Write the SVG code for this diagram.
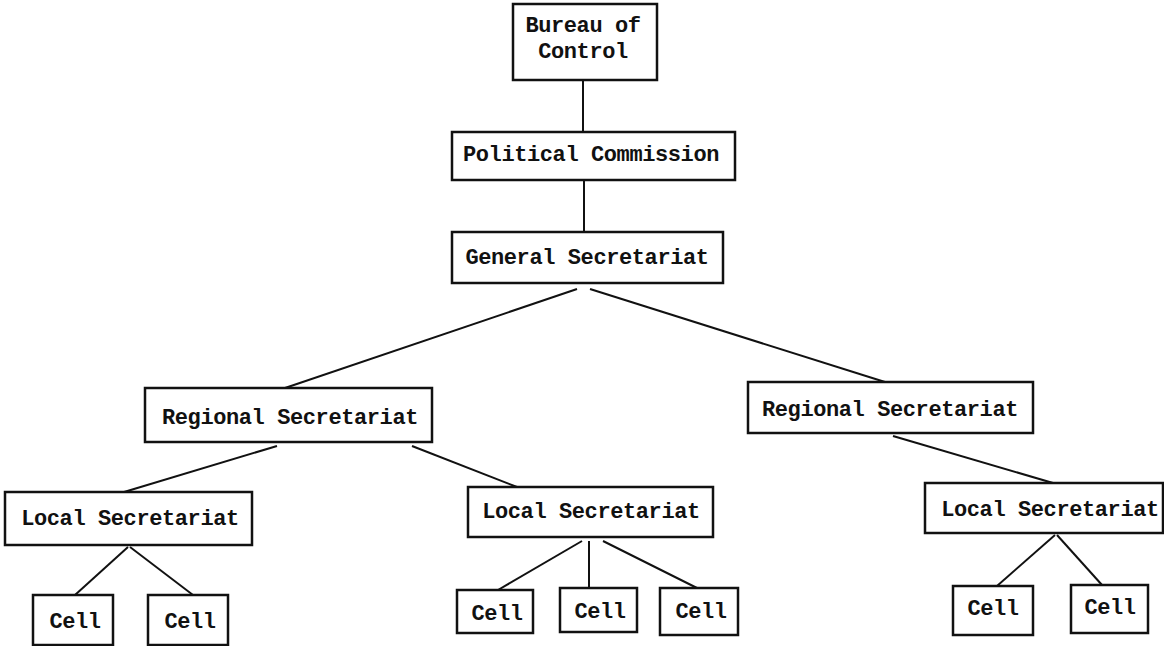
<svg xmlns="http://www.w3.org/2000/svg" width="1164" height="646" viewBox="0 0 1164 646">
<style>
.box{fill:#fff;stroke:#111;stroke-width:2.5}
.lbl{font-family:"Liberation Mono","Courier New",monospace;font-size:22px;font-weight:bold;fill:#111;text-anchor:middle;letter-spacing:-0.4px}
.con{stroke:#111;stroke-width:2;fill:none}
</style>
<rect width="1164" height="646" fill="#fff"/>
<g id="connectors">
<line class="con" x1="583" y1="80" x2="583" y2="132"/>
<line class="con" x1="584" y1="180" x2="584" y2="232"/>
<line class="con" x1="577" y1="289" x2="285" y2="388"/>
<line class="con" x1="590" y1="289" x2="885" y2="382"/>
<line class="con" x1="277" y1="446" x2="124" y2="492"/>
<line class="con" x1="412" y1="446" x2="517" y2="487"/>
<line class="con" x1="893" y1="436" x2="1053" y2="483"/>
<line class="con" x1="128" y1="547" x2="75" y2="595"/>
<line class="con" x1="130" y1="547" x2="193" y2="595"/>
<line class="con" x1="582" y1="541" x2="498" y2="590"/>
<line class="con" x1="589" y1="541" x2="589" y2="588"/>
<line class="con" x1="603" y1="541" x2="697" y2="588"/>
<line class="con" x1="1055" y1="535" x2="997" y2="586"/>
<line class="con" x1="1057" y1="535" x2="1102" y2="585"/>
</g>
<g id="bureau"><rect class="box" x="513" y="4" width="144" height="76"/><text class="lbl" x="583" y="32">Bureau of</text><text class="lbl" x="583" y="58">Control</text></g>
<g id="political"><rect class="box" x="452" y="132" width="283" height="48"/><text class="lbl" x="591" y="161">Political Commission</text></g>
<g id="general"><rect class="box" x="452" y="232" width="271" height="51"/><text class="lbl" x="587" y="264">General Secretariat</text></g>
<g id="regional-left"><rect class="box" x="145" y="388" width="287" height="54"/><text class="lbl" x="290" y="424">Regional Secretariat</text></g>
<g id="regional-right"><rect class="box" x="748" y="382" width="285" height="51"/><text class="lbl" x="890" y="416">Regional Secretariat</text></g>
<g id="local-left"><rect class="box" x="5" y="492" width="247" height="53"/><text class="lbl" x="130" y="525">Local Secretariat</text></g>
<g id="local-middle"><rect class="box" x="468" y="487" width="245" height="50"/><text class="lbl" x="591" y="518">Local Secretariat</text></g>
<g id="local-right"><rect class="box" x="925" y="483" width="238" height="50"/><text class="lbl" x="1050" y="516">Local Secretariat</text></g>
<g id="cell-1"><rect class="box" x="33" y="595" width="80" height="50"/><text class="lbl" x="75" y="628">Cell</text></g>
<g id="cell-2"><rect class="box" x="148" y="595" width="80" height="50"/><text class="lbl" x="190" y="628">Cell</text></g>
<g id="cell-3"><rect class="box" x="457" y="590" width="76" height="43"/><text class="lbl" x="497" y="620">Cell</text></g>
<g id="cell-4"><rect class="box" x="560" y="588" width="77" height="44"/><text class="lbl" x="600" y="618">Cell</text></g>
<g id="cell-5"><rect class="box" x="660" y="588" width="78" height="47"/><text class="lbl" x="701" y="618">Cell</text></g>
<g id="cell-6"><rect class="box" x="953" y="586" width="80" height="49"/><text class="lbl" x="993" y="615">Cell</text></g>
<g id="cell-7"><rect class="box" x="1071" y="585" width="77" height="48"/><text class="lbl" x="1110" y="614">Cell</text></g>
</svg>
